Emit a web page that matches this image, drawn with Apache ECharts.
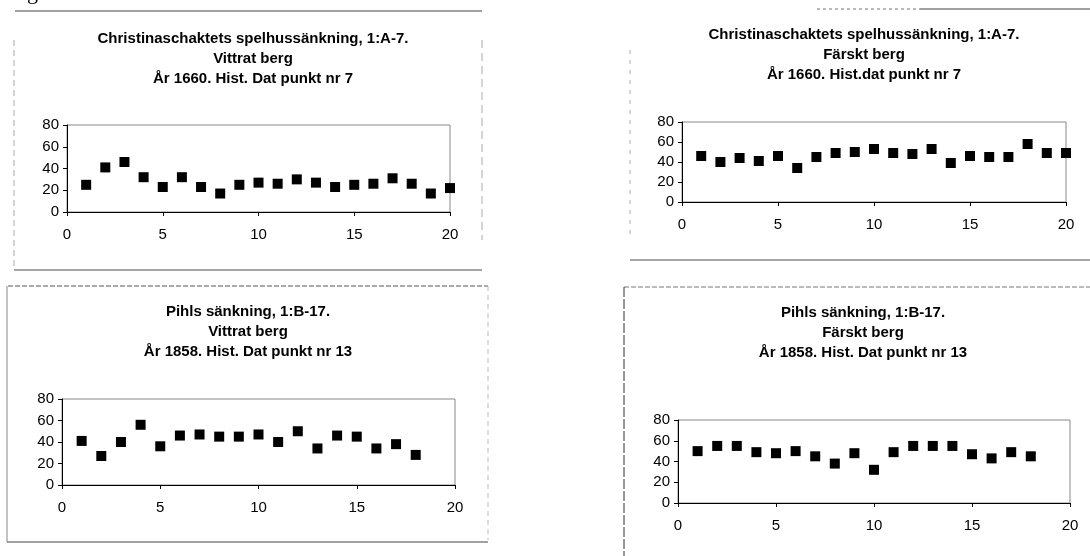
<!DOCTYPE html>
<html>
<head>
<meta charset="utf-8">
<script src="https://cdn.jsdelivr.net/npm/echarts@6/dist/echarts.min.js"></script>
<style>
html,body{margin:0;padding:0;background:#fff;}
#c{width:1090px;height:556px;}
</style>
</head>
<body>
<div id="c"></div>
<script>
// ---- data ----
const titleA = "Christinaschaktets spelhussänkning, 1:A-7.\nVittrat berg\nÅr 1660. Hist. Dat punkt nr 7";
const titleB = "Christinaschaktets spelhussänkning, 1:A-7.\nFärskt berg\nÅr 1660. Hist.dat punkt nr 7";
const titleC = "Pihls sänkning, 1:B-17.\nVittrat berg\nÅr 1858. Hist. Dat punkt nr 13";
const titleD = "Pihls sänkning, 1:B-17.\nFärskt berg\nÅr 1858. Hist. Dat punkt nr 13";

const xA = [1,2,3,4,5,6,7,8,9,10,11,12,13,14,15,16,17,18,19,20];
const yA = [25,41,46,32,23,32,23,17,25,27,26,30,27,23,25,26,31,26,17,22];

const xB = [1,2,3,4,5,6,7,8,9,10,11,12,13,14,15,16,17,18,19,20];
const yB = [46,40,44,41,46,34,45,49,50,53,49,48,53,39,46,45,45,58,49,49];

const xC = [1,2,3,4,5,6,7,8,9,10,11,12,13,14,15,16,17,18];
const yC = [41,27,40,56,36,46,47,45,45,47,40,50,34,46,45,34,38,28];

const xD = [1,2,3,4,5,6,7,8,9,10,11,12,13,14,15,16,17,18];
const yD = [50,55,55,49,48,50,45,38,48,32,49,55,55,55,47,43,49,45];

const xTicks = {min:0, max:20, interval:5};
const yTicks = {min:0, max:80, interval:20};

// ---- chart ----
const FONT = "'Liberation Sans', Arial, sans-serif";
const chart = echarts.init(document.getElementById('c'), null, {renderer:'canvas'});

const grids = [
  {left:67, top:125, width:383, height:87},
  {left:682, top:122, width:384, height:80},
  {left:62, top:399, width:393, height:86},
  {left:678, top:420, width:392, height:83}
];
const titles = [
  {text:titleA, cx:253, top:29},
  {text:titleB, cx:864, top:25},
  {text:titleC, cx:248, top:302},
  {text:titleD, cx:863, top:303}
];
const seriesData = [[xA,yA],[xB,yB],[xC,yC],[xD,yD]];

function pairs(xs, ys){ return xs.map((x,i)=>[x, ys[i]]); }

const option = {
  animation:false,
  backgroundColor:'#fff',
  textStyle:{fontFamily:FONT},
  title: titles.map(t=>({
    text:t.text, left:t.cx, top:t.top, textAlign:'center',
    padding:0,
    textStyle:{fontFamily:FONT, fontSize:15, fontWeight:'bold', color:'#000', lineHeight:20}
  })),
  grid: grids.map(g=>Object.assign({show:true, borderColor:'#888', borderWidth:1, backgroundColor:'transparent', containLabel:false}, g)),
  xAxis: grids.map((g,i)=>({
    type:'value', gridIndex:i, min:xTicks.min, max:xTicks.max, interval:xTicks.interval,
    axisLine:{show:true, onZero:false, lineStyle:{color:'#000', width:1}},
    axisTick:{show:true, length:4, lineStyle:{color:'#000'}},
    splitLine:{show:false},
    axisLabel:{color:'#000', fontSize:15, fontFamily:FONT, margin:15}
  })),
  yAxis: grids.map((g,i)=>({
    type:'value', gridIndex:i, min:yTicks.min, max:yTicks.max, interval:yTicks.interval,
    axisLine:{show:true, onZero:false, lineStyle:{color:'#000', width:1}},
    axisTick:{show:true, length:4, lineStyle:{color:'#000'}},
    splitLine:{show:false},
    axisLabel:{color:'#000', fontSize:15, fontFamily:FONT, margin:8}
  })),
  series: seriesData.map((d,i)=>({
    type:'scatter', xAxisIndex:i, yAxisIndex:i,
    symbol:'rect', symbolSize:10,
    itemStyle:{color:'#000', opacity:1},
    emphasis:{disabled:true},
    data:pairs(d[0], d[1])
  })),
  graphic:[
    // fragment of caption text at top-left of page
    {type:'text', left:27, top:-18, style:{text:'g', font:"22px 'Liberation Serif', serif", fill:'#000'}},
    // panel A frame
    {type:'line', shape:{x1:15,y1:11,x2:482,y2:11}, style:{stroke:'#444', lineWidth:1}},
    {type:'line', shape:{x1:14,y1:40,x2:14,y2:270}, style:{stroke:'#aaa', lineWidth:1, lineDash:[6,4]}},
    {type:'line', shape:{x1:14,y1:270,x2:482,y2:270}, style:{stroke:'#888', lineWidth:1.5}},
    {type:'line', shape:{x1:482,y1:40,x2:482,y2:240}, style:{stroke:'#aaa', lineWidth:1, lineDash:[8,5]}},
    // panel B frame
    {type:'line', shape:{x1:817,y1:9,x2:920,y2:9}, style:{stroke:'#777', lineWidth:1, lineDash:[3,3]}},
    {type:'line', shape:{x1:920,y1:9,x2:1090,y2:9}, style:{stroke:'#444', lineWidth:1}},
    {type:'line', shape:{x1:630,y1:50,x2:630,y2:240}, style:{stroke:'#aaa', lineWidth:1, lineDash:[4,6]}},
    {type:'line', shape:{x1:630,y1:260,x2:1090,y2:260}, style:{stroke:'#888', lineWidth:1.5}},
    // panel C frame
    {type:'line', shape:{x1:8,y1:286,x2:488,y2:286}, style:{stroke:'#555', lineWidth:1, lineDash:[5,2]}},
    {type:'line', shape:{x1:7,y1:286,x2:7,y2:542}, style:{stroke:'#888', lineWidth:1}},
    {type:'line', shape:{x1:7,y1:542,x2:488,y2:542}, style:{stroke:'#444', lineWidth:1}},
    {type:'line', shape:{x1:488,y1:286,x2:488,y2:540}, style:{stroke:'#bbb', lineWidth:1, lineDash:[5,4]}},
    // panel D frame
    {type:'line', shape:{x1:624,y1:287,x2:1090,y2:287}, style:{stroke:'#777', lineWidth:1, lineDash:[5,2]}},
    {type:'line', shape:{x1:624,y1:287,x2:624,y2:556}, style:{stroke:'#333', lineWidth:1, lineDash:[10,2]}}
  ]
};
chart.setOption(option);
</script>
</body>
</html>
